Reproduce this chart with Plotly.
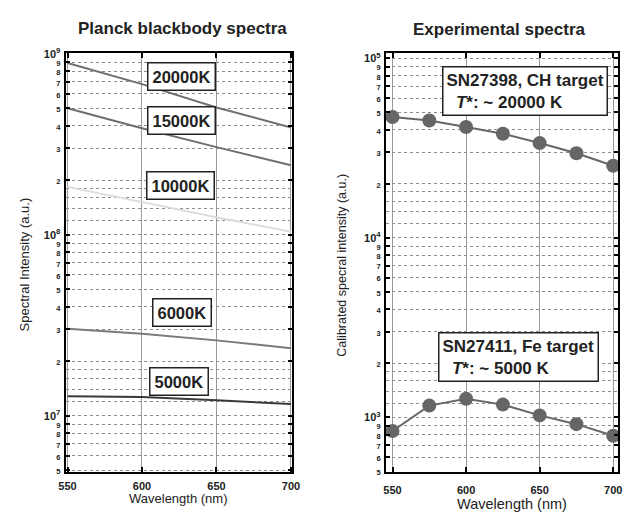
import plotly.graph_objects as go

# ---------------- data ----------------
wl_planck = [550, 600, 650, 700]
planck_labels = ["20000K", "15000K", "10000K", "6000K", "5000K"]
t20000 = [8.9e8, 6.8e8, 5.05e8, 3.92e8]
t15000 = [5.0e8, 3.88e8, 3.05e8, 2.42e8]
t10000 = [1.84e8, 1.51e8, 1.25e8, 1.04e8]
t6000 = [3.03e7, 2.84e7, 2.61e7, 2.36e7]
t5000 = [1.28e7, 1.27e7, 1.22e7, 1.16e7]

wl_exp = [550, 575, 600, 625, 650, 675, 700]
ch_target = [4.71e4, 4.5e4, 4.14e4, 3.8e4, 3.37e4, 2.96e4, 2.52e4]
fe_target = [839, 1162, 1268, 1177, 1025, 916, 789]

x_ticks = [550, 600, 650, 700]
left_decades = [6, 7, 8, 9]
right_decades = [2, 3, 4, 5]
major_mant = [1, 2, 3, 4, 5, 6, 7, 8, 9]
minor_mant = [1.2, 1.4, 1.6, 1.8]

W, H = 629, 514
def px(x):
    return x / W
def py(y):
    return 1 - y / H

FONT = "Liberation Sans, Arial, sans-serif"

def y_ticks(decades, lo, hi):
    vals, texts, mvals = [], [], []
    for k in decades:
        for m in major_mant:
            v = m * 10 ** k
            if lo * 0.999 <= v <= hi * 1.001:
                vals.append(v)
                if m == 1:
                    texts.append("10<sup>%d</sup>" % k)
                else:
                    texts.append("<span style='font-size:7.5px'>%d</span>" % m)
        for m in minor_mant:
            v = m * 10 ** k
            if lo <= v <= hi:
                mvals.append(v)
    return vals, texts, mvals

fig = go.Figure()

line_styles = [
    (t20000, "#6f6f6f"),
    (t15000, "#6f6f6f"),
    (t10000, "#dcdcdc"),
    (t6000, "#7a7a7a"),
    (t5000, "#3a3a3a"),
]
for (vals, col), name in zip(line_styles, planck_labels):
    fig.add_trace(go.Scatter(x=wl_planck, y=vals, mode="lines", name=name,
                             line=dict(color=col, width=2), xaxis="x", yaxis="y",
                             showlegend=False))

for vals, name in [(ch_target, "SN27398"), (fe_target, "SN27411")]:
    fig.add_trace(go.Scatter(x=wl_exp, y=vals, mode="lines+markers", name=name,
                             line=dict(color="#666666", width=2),
                             marker=dict(color="#666666", size=14),
                             xaxis="x2", yaxis="y2", showlegend=False))

ly_range = [6.69, 9.005]
ry_range = [2.696, 5.03]
lv, lt, lm = y_ticks(left_decades, 10 ** ly_range[0], 10 ** ly_range[1])
rv, rt, rm = y_ticks(right_decades, 10 ** ry_range[0], 10 ** ry_range[1])

GRID = "#8c8c8c"
xcommon = dict(
    tickvals=x_ticks, ticktext=[str(v) for v in x_ticks],
    showline=True, linecolor="black", linewidth=2, mirror="ticks",
    ticks="inside", ticklen=5, tickwidth=2, tickcolor="black",
    showgrid=True, gridcolor="#9a9a9a", gridwidth=1,
    tickfont=dict(family=FONT, size=11, color="#222", weight="bold"),
    zeroline=False,
)
ycommon = dict(
    type="log",
    showline=True, linecolor="black", linewidth=2, mirror="ticks",
    ticks="inside", ticklen=4, tickwidth=1.5, tickcolor="black",
    showgrid=True, gridcolor=GRID, gridwidth=1, griddash="dot",
    tickfont=dict(family=FONT, size=11, color="#222", weight="bold"),
    ticklabelstandoff=1,
    zeroline=False,
)

fig.update_layout(
    width=W, height=H,
    margin=dict(l=0, r=0, t=0, b=0),
    paper_bgcolor="white", plot_bgcolor="white",
    xaxis=dict(domain=[px(60), px(292)], range=[548.7, 700.7], anchor="y",
               ticklabelstandoff=3, **xcommon),
    yaxis=dict(domain=[py(476), py(47)], range=ly_range, anchor="x",
               tickvals=lv, ticktext=lt,
               minor=dict(tickvals=lm, showgrid=True, gridcolor=GRID,
                          griddash="dot", gridwidth=1, ticks=""),
               **ycommon),
    xaxis2=dict(domain=[px(388), px(626)], range=[545.4, 703.3], anchor="y2",
                ticklabelstandoff=7, **xcommon),
    yaxis2=dict(domain=[py(476), py(47)], range=ry_range, anchor="x2",
                tickvals=rv, ticktext=rt,
                minor=dict(tickvals=rm, showgrid=True, gridcolor=GRID,
                           griddash="dot", gridwidth=1, ticks=""),
                **ycommon),
)

ann = []
# titles
ann.append(dict(text="<b>Planck blackbody spectra</b>", x=px(180), y=py(22),
                font=dict(family=FONT, size=17, color="#222")))
ann.append(dict(text="<b>Experimental spectra</b>", x=px(505), y=py(23),
                font=dict(family=FONT, size=17, color="#222")))
# axis titles
ann.append(dict(text="Spectral Intensity (a.u.)", x=px(18), y=py(264), textangle=-90,
                font=dict(family=FONT, size=13, color="#222")))
ann.append(dict(text="Calibrated specral intensity (a.u.)", x=px(343), y=py(264), textangle=-90,
                font=dict(family=FONT, size=12.5, color="#222")))
ann.append(dict(text="Wavelength (nm)", x=px(175.5), y=py(503),
                font=dict(family=FONT, size=13, color="#222")))
ann.append(dict(text="Wavelength (nm)", x=px(517), y=py(509),
                font=dict(family=FONT, size=14.5, color="#222")))
# temperature labels
label_pos = [(179, 71), (179, 116), (178, 183), (179.5, 313), (176, 383)]
for lab, (lx, ly) in zip(planck_labels, label_pos):
    ann.append(dict(text="<b>%s</b>" % lab, x=px(lx), y=py(ly),
                    font=dict(family=FONT, size=16.5, color="#222"),
                    bgcolor="white", bordercolor="#222", borderwidth=1.5, borderpad=4))
# experimental boxes
ann.append(dict(text="<b>SN27398, CH target</b><br><b>\u00a0\u00a0<i>T</i>*: ~ 20000 K</b>",
                x=px(531), y=py(86.5), align="left",
                font=dict(family=FONT, size=17, color="#222"),
                bgcolor="white", bordercolor="#222", borderwidth=1.5, borderpad=3))
ann.append(dict(text="<b>SN27411, Fe target</b><br><b>\u00a0\u00a0<i>T</i>*: ~ 5000 K</b>",
                x=px(524), y=py(358), align="left",
                font=dict(family=FONT, size=17, color="#222"),
                bgcolor="white", bordercolor="#222", borderwidth=1.5, borderpad=3))

for a in ann:
    a.update(xref="paper", yref="paper", showarrow=False, xanchor="center", yanchor="middle")
fig.update_layout(annotations=ann)

fig.write_html("out.html")
